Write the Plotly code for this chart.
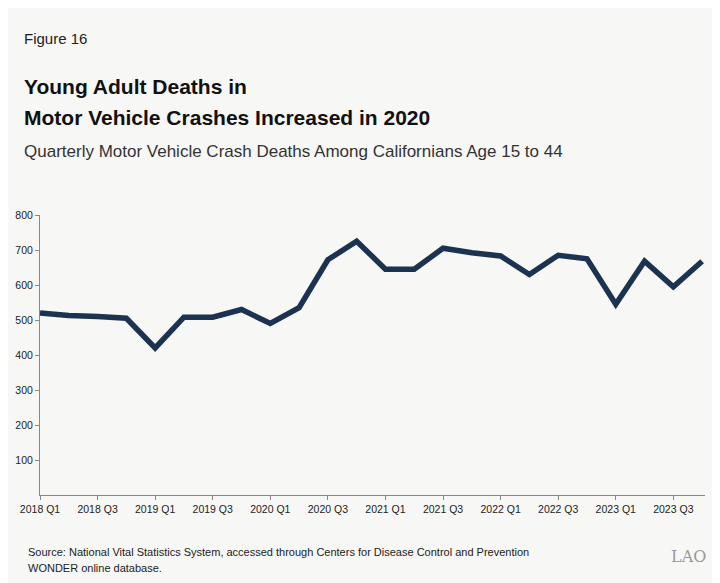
import plotly.graph_objects as go

quarters = [f"{y} Q{q}" for y in range(2018, 2024) for q in range(1, 5)]
deaths = [520, 513, 510, 505, 420, 508, 508, 530, 490, 535, 672, 725,
          645, 645, 705, 692, 683, 630, 685, 675, 545, 668, 595, 668]
tick_labels = quarters[::2]

fig = go.Figure()
fig.add_trace(go.Scatter(x=quarters, y=deaths, mode="lines",
                         line=dict(color="#1b3350", width=5.5), hoverinfo="x+y"))

font = "Liberation Sans"
L, R, T, B = 32, 697, 207, 487
fig.update_layout(
    width=720, height=583, showlegend=False,
    paper_bgcolor="#f7f7f5", plot_bgcolor="#f7f7f5",
    margin=dict(l=L, r=720 - R, t=T, b=583 - B, autoexpand=False),
    font=dict(family=font, color="#222", size=11),
    xaxis=dict(tickmode="array", tickvals=tick_labels, ticktext=tick_labels,
               showgrid=False, showline=True, linecolor="#888", ticks="outside",
               ticklen=4, tickcolor="#888", range=[0, 23.1], automargin=False,
               tickfont=dict(size=10.5)),
    yaxis=dict(range=[0, 800], tickvals=[100, 200, 300, 400, 500, 600, 700, 800],
               showgrid=False, showline=True, linecolor="#888", ticks="outside",
               ticklen=4, tickcolor="#888", automargin=False, tickfont=dict(size=10.5)),
)


def px(x, y):
    return (x - L) / (R - L), (B - y) / (B - T)


ann = [
    (14, 30, "Figure 16", 15, "#222"),
    (14, 78, "<b>Young Adult Deaths in</b>", 21, "#111"),
    (14, 110, "<b>Motor Vehicle Crashes Increased in 2020</b>", 21, "#111"),
    (14, 144, "Quarterly Motor Vehicle Crash Deaths Among Californians Age 15 to 44", 17, "#333"),
    (18, 544, "Source: National Vital Statistics System, accessed through Centers for Disease Control and Prevention", 11, "#222"),
    (18, 560, "WONDER online database.", 11, "#222"),
]
for x, y, t, s, c in ann:
    ax, ay = px(x, y)
    fig.add_annotation(x=ax, y=ay, xref="paper", yref="paper",
                       text=t, showarrow=False, xanchor="left", yanchor="middle",
                       font=dict(size=s, color=c, family=font))
ax, ay = px(700, 548)
fig.add_annotation(x=ax, y=ay, xref="paper", yref="paper",
                   text="LAO", showarrow=False, xanchor="right", yanchor="middle",
                   font=dict(size=16, color="#999", family="DejaVu Serif"))

fig.write_html("out.html")
